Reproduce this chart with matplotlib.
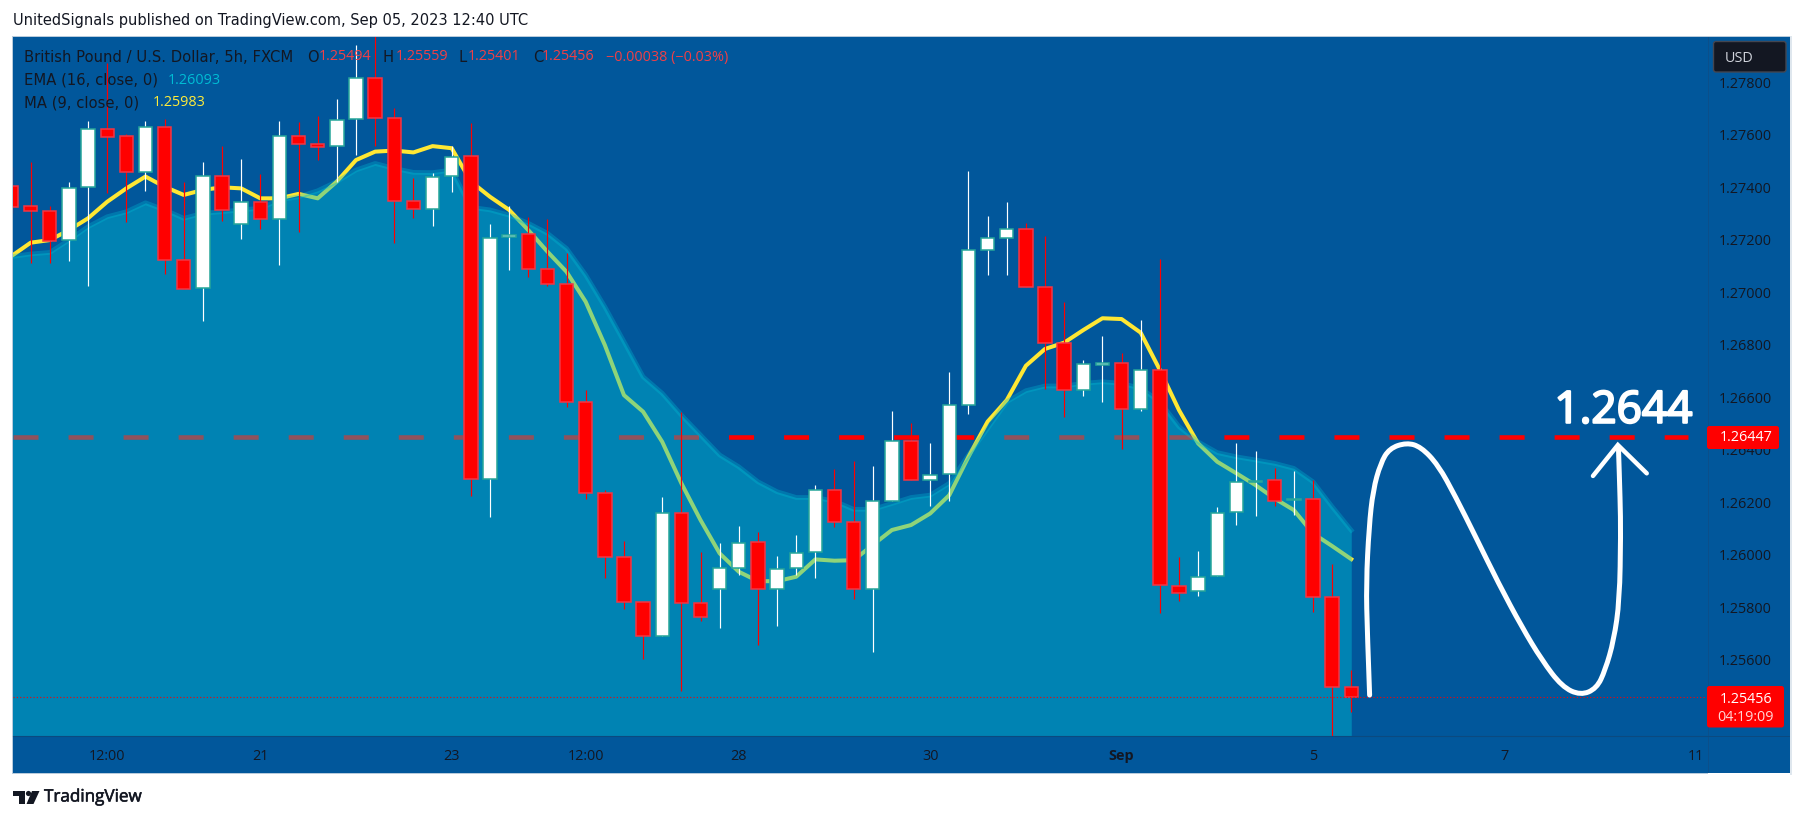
import matplotlib
matplotlib.use("Agg")
import matplotlib.pyplot as plt
import matplotlib.patheffects as pe
from matplotlib.patches import Rectangle, FancyBboxPatch, PathPatch, Polygon, Circle
from matplotlib.path import Path
from matplotlib.transforms import IdentityTransform
import numpy as np

W, H = 1803, 821

opens = [1.27405,1.27327,1.27308,1.27199,1.27400,1.27621,1.27594,1.27460,1.27629,1.27122,1.27015,1.27444,1.27259,1.27343,1.27278,1.27594,1.27564,1.27556,1.27659,1.27815,1.27663,1.27349,1.27316,1.27442,1.27518,1.26287,1.27209,1.27221,1.27087,1.27030,1.26580,1.26234,1.25990,1.25818,1.25692,1.26157,1.25814,1.25871,1.25948,1.26047,1.25871,1.25948,1.26009,1.26245,1.26123,1.25868,1.26203,1.26433,1.26283,1.26306,1.26569,1.27160,1.27206,1.27240,1.27019,1.26805,1.26627,1.26724,1.26729,1.26554,1.26702,1.25882,1.25861,1.25918,1.26161,1.26278,1.26283,1.26208,1.26214,1.25837,1.25494]
closes = [1.27326,1.27308,1.27197,1.27399,1.27621,1.27593,1.27460,1.27629,1.27122,1.27014,1.27444,1.27315,1.27343,1.27278,1.27594,1.27564,1.27555,1.27658,1.27815,1.27663,1.27349,1.27316,1.27441,1.27517,1.26287,1.27208,1.27218,1.27087,1.27030,1.26580,1.26234,1.25990,1.25818,1.25692,1.26157,1.25814,1.25763,1.25948,1.26045,1.25871,1.25946,1.26007,1.26245,1.26123,1.25868,1.26203,1.26432,1.26283,1.26305,1.26569,1.27160,1.27206,1.27240,1.27019,1.26805,1.26627,1.26725,1.26729,1.26554,1.26702,1.25884,1.25855,1.25916,1.26160,1.26278,1.26282,1.26206,1.26213,1.25837,1.25494,1.25456]
highs = [1.27479,1.27498,1.27330,1.27419,1.27653,1.27873,1.27602,1.27653,1.27659,1.27422,1.27495,1.27559,1.27508,1.27451,1.27653,1.27650,1.27672,1.27738,1.27942,1.27987,1.27701,1.27437,1.27456,1.27557,1.27644,1.27260,1.27329,1.27288,1.27278,1.27148,1.26627,1.26246,1.26052,1.25818,1.26220,1.26545,1.26011,1.26045,1.26109,1.26087,1.25996,1.26075,1.26265,1.26325,1.26357,1.26338,1.26547,1.26500,1.26427,1.26697,1.27462,1.27291,1.27344,1.27265,1.27216,1.26964,1.26742,1.26833,1.26770,1.26894,1.27125,1.25990,1.26015,1.26180,1.26427,1.26395,1.26331,1.26320,1.26284,1.25964,1.25559]
lows = [1.27301,1.27110,1.27110,1.27119,1.27024,1.27377,1.27269,1.27386,1.27070,1.27014,1.26892,1.27272,1.27203,1.27241,1.27104,1.27231,1.27504,1.27422,1.27523,1.27559,1.27189,1.27282,1.27253,1.27381,1.26223,1.26145,1.27085,1.27057,1.27024,1.26561,1.26213,1.25912,1.25793,1.25602,1.25692,1.25480,1.25747,1.25721,1.25922,1.25655,1.25728,1.25922,1.25912,1.26106,1.25831,1.25630,1.26203,1.26283,1.26185,1.26206,1.26536,1.27066,1.27066,1.27019,1.26631,1.26526,1.26605,1.26583,1.26401,1.26547,1.25776,1.25823,1.25843,1.25918,1.26113,1.26148,1.26186,1.26151,1.25782,1.25300,1.25401]
ema16 = [1.27136,1.27146,1.27152,1.27199,1.27250,1.27288,1.27307,1.27341,1.27314,1.27282,1.27301,1.27307,1.27314,1.27320,1.27352,1.27364,1.27387,1.27422,1.27466,1.27491,1.27472,1.27457,1.27456,1.27466,1.27324,1.27314,1.27294,1.27263,1.27225,1.27167,1.27066,1.26945,1.26812,1.26678,1.26615,1.26532,1.26456,1.26380,1.26335,1.26278,1.26240,1.26218,1.26218,1.26204,1.26173,1.26173,1.26195,1.26218,1.26227,1.26272,1.26380,1.26481,1.26583,1.26625,1.26643,1.26643,1.26653,1.26659,1.26653,1.26634,1.26583,1.26488,1.26430,1.26389,1.26373,1.26361,1.26348,1.26329,1.26278,1.26183,1.26093]
ma9 = [1.27138,1.27189,1.27199,1.27237,1.27282,1.27345,1.27396,1.27441,1.27402,1.27371,1.27390,1.27400,1.27396,1.27358,1.27358,1.27375,1.27358,1.27422,1.27504,1.27536,1.27540,1.27533,1.27557,1.27549,1.27422,1.27364,1.27314,1.27237,1.27155,1.27078,1.26964,1.26799,1.26608,1.26545,1.26430,1.26272,1.26132,1.26005,1.25935,1.25899,1.25899,1.25916,1.25982,1.25977,1.25979,1.26037,1.26094,1.26113,1.26157,1.26227,1.26373,1.26507,1.26589,1.26720,1.26784,1.26808,1.26856,1.26901,1.26898,1.26846,1.26704,1.26551,1.26424,1.26354,1.26310,1.26265,1.26214,1.26170,1.26081,1.26033,1.25983]

price_ticks = [1.256,1.258,1.260,1.262,1.264,1.266,1.268,1.270,1.272,1.274,1.276,1.278]
time_ticks = [5,13,23,30,38,48,58,68,78,88]
time_labels = ["12:00","21","23","12:00","28","30","Sep","5","7","11"]
target_price = 1.26447
last_price = 1.25456

curve_x = [70.96,70.84,70.78,70.93,71.14,71.53,71.99,72.89,73.64,74.54,75.45,76.50,77.70,78.91,79.96,81.01,81.98,82.82,83.27,83.72,84.02,84.08,84.05,83.96]
curve_p = [1.25465,1.25700,1.25890,1.26106,1.26246,1.26348,1.26405,1.26427,1.26411,1.26342,1.26221,1.26068,1.25890,1.25725,1.25598,1.25497,1.25464,1.25490,1.25560,1.25674,1.25827,1.26081,1.26208,1.26411]
head_x = [82.63,83.93,85.44]
head_p = [1.26300,1.26418,1.26310]

BG = "#01579b"; AREA = "#00bcd4"; DARK = "#131722"; UP_EDGE = "#26a69a"; DN_EDGE = "#f23645"; RED = "#ff0000"
NUM = "Open Sans"
NUM_SIZE = 10.4
plt.rcParams["font.family"] = "DejaVu Sans"
fig = plt.figure(figsize=(W/100, H/100), dpi=100, facecolor="white")

def fx(x): return x / W
def fy(y): return 1 - y / H

# chart panel background and borders
fig.add_artist(Rectangle((fx(13), fy(773)), fx(1790)-fx(13), fy(36.7)-fy(773), transform=fig.transFigure, fc=BG, ec="none", zorder=-5))
fig.add_artist(Rectangle((fx(12), fy(773.5)), 1/W, fy(36)-fy(773.5), transform=fig.transFigure, fc="#b8cbdc", ec="none", zorder=-4))
fig.add_artist(Rectangle((fx(12), fy(37)), fx(1790)-fx(12), 1/H, transform=fig.transFigure, fc="#b8cbdc", ec="none", zorder=-4))
fig.add_artist(Rectangle((fx(12), fy(774)), fx(1708)-fx(12), 1/H, transform=fig.transFigure, fc="#b8cbdc", ec="none", zorder=-4))
fig.add_artist(Rectangle((fx(1790), fy(775)), 2/W, fy(36)-fy(775), transform=fig.transFigure, fc="#dfe7ee", ec="none", zorder=-4))

ax = fig.add_axes([fx(13), fy(736), (1708-13)/W, (736-36.7)/H])
ax.patch.set_alpha(0)
x = np.arange(len(opens))
ax.set_xlim(0.078, 88.64)
ax.set_ylim(1.25309, 1.27974)
for s in ax.spines.values():
    s.set_visible(False)
ax.yaxis.tick_right()
ax.set_yticks(price_ticks, [f"{p:.5f}" for p in price_ticks], family=NUM)
ax.tick_params(axis="y", length=0, pad=8, labelsize=NUM_SIZE, labelcolor=DARK)
ax.set_xticks([])

# dashed target line and yellow MA sit under the translucent area
ax.plot([0.078, 87.59], [target_price]*2, color=RED, lw=3.3, dashes=(25/4.58, 30/4.58), dash_capstyle="butt", zorder=1)
ax.plot(x, ma9, color="#ffe733", lw=2.9, solid_joinstyle="round", zorder=2)
ax.fill_between(x, ema16, 1.25309, color=AREA, alpha=0.44, lw=0, zorder=3)
ax.plot(x, ema16, color=AREA, alpha=0.32, lw=3.4, zorder=3.1)

# candles
up = np.array(closes) >= np.array(opens)
for mask, wick, face, edge in ((up, "white", "white", UP_EDGE), (~up, RED, RED, DN_EDGE)):
    ax.vlines(x[mask], np.array(lows)[mask], np.array(highs)[mask], color=wick, lw=0.85, zorder=4)
    bottoms = np.minimum(opens, closes)[mask]
    heights = np.abs(np.array(closes) - np.array(opens))[mask]
    ax.bar(x[mask], heights, bottom=bottoms, width=0.7, color=face, edgecolor=edge, lw=1.1, zorder=5)

ax.axhline(last_price, color=RED, lw=0.8, dashes=(1, 2), zorder=6)

# hand-drawn forecast curve and arrow head
pts = np.column_stack([curve_x, curve_p])
verts = [pts[0]]
codes = [Path.MOVETO]
for i in range(1, len(pts) - 1):
    verts += [pts[i], (pts[i] + pts[i + 1]) / 2]
    codes += [Path.CURVE3, Path.CURVE3]
verts.append(pts[-1]); codes.append(Path.LINETO)
ax.add_patch(PathPatch(Path(verts, codes), fc="none", ec="white", lw=3.6, capstyle="round", joinstyle="round", zorder=7))
ax.plot(head_x, head_p, color="white", lw=3.2, solid_capstyle="round", solid_joinstyle="miter", zorder=7)

# time axis strip
ax2 = fig.add_axes([fx(13), fy(773), (1708-13)/W, (773-736)/H])
ax2.patch.set_alpha(0)
ax2.set_xlim(0.078, 88.64)
ax2.set_yticks([])
for s in ax2.spines.values():
    s.set_visible(False)
ax2.spines["top"].set_visible(True)
ax2.spines["top"].set_color("#0b4a80")
ax2.spines["top"].set_linewidth(0.8)
ax2.set_xticks(time_ticks, time_labels, family=NUM)
ax2.tick_params(axis="x", length=0, pad=-17, labelsize=NUM_SIZE, labelcolor=DARK)
for t in ax2.get_xticklabels():
    if t.get_text() == "Sep":
        t.set_fontweight("bold")

# price axis separators
fig.add_artist(Rectangle((fx(1708), fy(773)), 1/W, fy(36.7)-fy(773), transform=fig.transFigure, fc="#0b4f8a", ec="none", zorder=1))
fig.add_artist(Rectangle((fx(1708), fy(736.5)), fx(1790)-fx(1708), 1/H, transform=fig.transFigure, fc="#0b4a80", ec="none", zorder=1))

# boxes on the price axis (drawn in pixels)
def box(x0, y0, x1, y1, fc, ec="none", z=8):
    fig.add_artist(FancyBboxPatch((x0, H - y1), x1 - x0, y1 - y0, boxstyle="round,pad=0,rounding_size=2.5",
                                  transform=IdentityTransform(), fc=fc, ec=ec, lw=1, zorder=z))
fig.add_artist(Rectangle((1709, H - 78), 80, 40, transform=IdentityTransform(), fc=BG, ec="none", zorder=7))
box(1713.5, 41.5, 1786, 72, DARK, "#434651")
box(1707, 426, 1779, 449, RED)
box(1707, 686, 1784, 727.5, RED)

def txt(px, py, s, color=DARK, size=10.6, ha="left", va="center", **kw):
    return fig.text(fx(px), fy(py), s, color=color, fontsize=size, ha=ha, va=va, zorder=9, **kw)

def num(px, py, s, color=DARK, ha="left"):
    return txt(px, py, s, color, size=NUM_SIZE, ha=ha, family=NUM)

LBL = "#f23f45"
txt(13, 21, "UnitedSignals published on TradingView.com, Sep 05, 2023 12:40 UTC", size=10.5)
txt(24, 57, "British Pound / U.S. Dollar, 5h, FXCM")
txt(307, 57, "O"); num(319, 57, "1.25494", LBL)
txt(383, 57, "H"); num(396, 57, "1.25559", LBL)
txt(459, 57, "L"); num(468, 57, "1.25401", LBL)
txt(533, 57, "C"); num(542, 57, "1.25456", LBL)
num(606, 57, "\u22120.00038 (\u22120.03%)", LBL)
txt(24, 80, "EMA (16, close, 0)"); num(168, 80, "1.26093", "#00bcd4")
txt(24, 103, "MA (9, close, 0)"); num(153, 103, "1.25983", "#ffeb3b")
txt(1725, 58, "USD", "#d1d4dc", size=NUM_SIZE, family=NUM)
num(1746, 437.5, "1.26447", "white", ha="center")
num(1746, 699, "1.25456", "white", ha="center")
num(1746, 717, "04:19:09", "#ffd6d6", ha="center")
big = txt(1623.5, 422.7, "1.2644", "white", size=31.8, ha="center", va="baseline", family=NUM)
big.set_path_effects([pe.withStroke(linewidth=1.6, foreground="white")])

# TradingView footer logo
ink = "#131722"
for poly in ([(13,791),(25,791),(25,804),(19,804),(19,796),(13,796)], [(32,791),(39.5,791),(33.5,804),(26.5,804)]):
    fig.add_artist(Polygon([(a, H - b) for a, b in poly], closed=True, transform=IdentityTransform(), fc=ink, ec="none"))
fig.add_artist(Circle((28.5, H - 793.5), 2.6, transform=IdentityTransform(), fc=ink, ec="none"))
tv = txt(44, 797.5, "TradingView", ink, size=12.3, family=NUM)
tv.set_path_effects([pe.withStroke(linewidth=0.4, foreground=ink)])

fig.savefig("out.png", dpi=100, facecolor="white")
